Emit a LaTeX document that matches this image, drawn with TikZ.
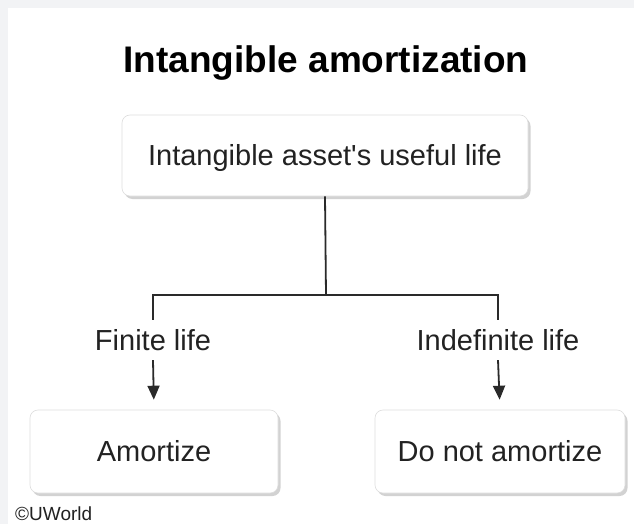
\documentclass[tikz,border=0pt]{standalone}
\usepackage{fontspec}
\setmainfont{Liberation Sans}
\usetikzlibrary{arrows.meta,shadows}
\definecolor{bggray}{HTML}{F2F3F5}
\definecolor{linecol}{HTML}{2A2A2A}
\definecolor{txtcol}{HTML}{222222}
\definecolor{boxline}{HTML}{DDDDDD}
\tikzset{
  box/.style={draw=boxline, line width=0.6pt, fill=white, rounded corners=8pt,
    drop shadow={shadow xshift=2.5pt, shadow yshift=-3pt, opacity=0.35, fill=gray},
    text=txtcol, font=\fontsize{29}{34}\selectfont, inner sep=0pt,
    text height=21pt, text depth=2pt},
  lab/.style={text=txtcol, font=\fontsize{29}{34}\selectfont, inner sep=0pt,
    minimum height=40pt, text height=21pt, text depth=0pt},
  conn/.style={draw=linecol, line width=1.8pt},
  arr/.style={conn, -{Triangle[width=12pt,length=14pt]}, shorten >=10pt}
}
\begin{document}
\begin{tikzpicture}[x=1pt,y=-1pt]
\fill[bggray] (0,0) rectangle (634,524);
\fill[white] (8,8) rectangle (634,524);
\useasboundingbox (0,0) rectangle (634,524);
\node[font=\bfseries\fontsize{37}{42}\selectfont] (title) at (326,63) {Intangible amortization};
\node[box, minimum width=406pt, minimum height=81pt] (top) at (325,155.5) {Intangible asset\textquotesingle s useful life};
\coordinate (J) at (326,295);
\node[lab] (fin) at (153,340) {Finite life};
\node[lab] (ind) at (498,340) {Indefinite life};
\node[box, minimum width=248pt, minimum height=83pt] (am) at (154,451.5) {Amortize};
\node[box, minimum width=250pt, minimum height=83pt] (dna) at (500,451.5) {Do not amortize};
\draw[conn] (top.south) -- (J);
\draw[conn] (fin.north) |- (J) -| (ind.north);
\draw[arr] (fin.south) -- (am.north);
\draw[arr] (ind.south) -- (dna.north);
\node[anchor=base west, inner sep=0pt, text=txtcol, font=\fontsize{19}{22}\selectfont] (cr) at (15,520) {©UWorld};
\end{tikzpicture}
\end{document}
